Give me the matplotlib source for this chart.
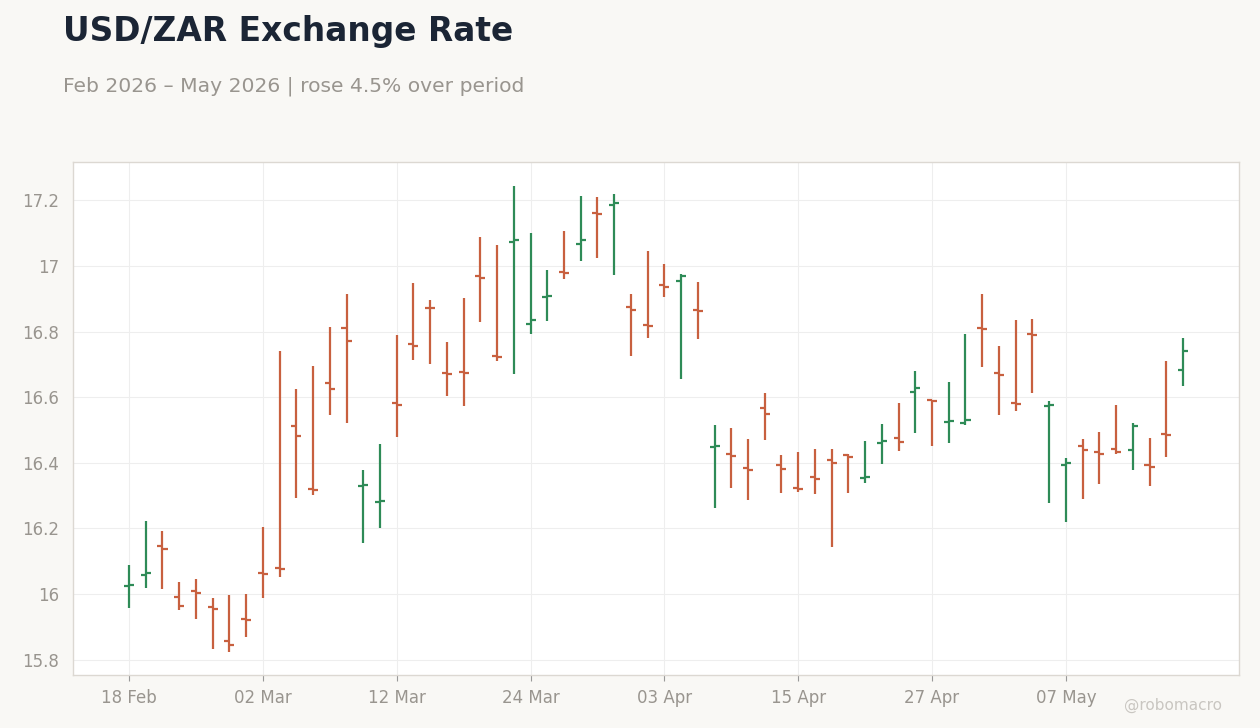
import numpy as np
import pandas as pd
import matplotlib
matplotlib.use("Agg")
import matplotlib.pyplot as plt
from matplotlib.ticker import FuncFormatter

# trading days (business days), one OHLC bar each
dates = pd.bdate_range("2026-02-18", periods=64)

opens = [16.025, 16.059, 16.147, 15.992, 16.010, 15.961, 15.858, 15.925, 16.064, 16.080,
         16.513, 16.321, 16.644, 16.812, 16.328, 16.281, 16.583, 16.763, 16.873, 16.673,
         16.676, 16.970, 16.726, 17.074, 16.824, 16.905, 16.983, 17.068, 17.162, 17.187,
         16.876, 16.821, 16.943, 16.955, 16.867, 16.448, 16.428, 16.385, 16.568, 16.394,
         16.324, 16.358, 16.409, 16.425, 16.354, 16.461, 16.476, 16.617, 16.590, 16.525,
         16.522, 16.810, 16.675, 16.583, 16.793, 16.574, 16.394, 16.452, 16.434, 16.443,
         16.440, 16.394, 16.487, 16.684]
highs = [16.088, 16.222, 16.192, 16.036, 16.046, 15.988, 15.997, 16.000, 16.204, 16.741,
         16.625, 16.695, 16.814, 16.914, 16.378, 16.457, 16.789, 16.948, 16.896, 16.768,
         16.902, 17.088, 17.064, 17.244, 17.100, 16.988, 17.107, 17.213, 17.210, 17.219,
         16.914, 17.046, 17.006, 16.977, 16.951, 16.515, 16.506, 16.472, 16.613, 16.424,
         16.433, 16.442, 16.442, 16.428, 16.466, 16.518, 16.582, 16.680, 16.592, 16.646,
         16.793, 16.914, 16.756, 16.835, 16.838, 16.588, 16.414, 16.472, 16.494, 16.576,
         16.521, 16.475, 16.710, 16.780]
lows = [15.958, 16.019, 16.016, 15.952, 15.925, 15.833, 15.824, 15.870, 15.989, 16.053,
        16.294, 16.303, 16.546, 16.521, 16.155, 16.201, 16.478, 16.713, 16.701, 16.603,
        16.573, 16.829, 16.711, 16.672, 16.793, 16.833, 16.961, 17.016, 17.025, 16.973,
        16.726, 16.781, 16.906, 16.656, 16.778, 16.263, 16.324, 16.287, 16.470, 16.309,
        16.312, 16.306, 16.144, 16.309, 16.339, 16.397, 16.437, 16.492, 16.452, 16.461,
        16.516, 16.693, 16.547, 16.559, 16.614, 16.278, 16.220, 16.290, 16.336, 16.428,
        16.379, 16.330, 16.419, 16.635]
closes = [16.028, 16.065, 16.138, 15.964, 16.004, 15.955, 15.845, 15.922, 16.062, 16.077,
          16.483, 16.318, 16.625, 16.771, 16.331, 16.284, 16.577, 16.757, 16.871, 16.671,
          16.674, 16.964, 16.723, 17.080, 16.836, 16.907, 16.980, 17.080, 17.159, 17.193,
          16.867, 16.818, 16.937, 16.970, 16.864, 16.450, 16.422, 16.379, 16.550, 16.382,
          16.321, 16.351, 16.400, 16.419, 16.357, 16.467, 16.464, 16.629, 16.588, 16.528,
          16.531, 16.808, 16.669, 16.580, 16.790, 16.577, 16.400, 16.440, 16.428, 16.434,
          16.513, 16.388, 16.485, 16.742]

UP = "#2e8b57"
DOWN = "#c8603f"
BG = "#f9f8f5"
GRID = "#eeeeee"
TXT = "#99958f"

fig = plt.figure(figsize=(12.6, 7.28), dpi=100, facecolor=BG)
ax = fig.add_axes([73/1260, 53/728, 1166/1260, 513/728])
ax.set_facecolor("white")

x = np.arange(len(dates))
o = np.array(opens); h = np.array(highs); l = np.array(lows); c = np.array(closes)
cols = np.where(c >= o, UP, DOWN)
tw = 0.3  # tick width in bar units

ax.vlines(x, l, h, colors=cols, linewidth=1.6, zorder=3)
ax.hlines(o, x - tw, x, colors=cols, linewidth=1.6, zorder=3)
ax.hlines(c, x, x + tw, colors=cols, linewidth=1.6, zorder=3)

ax.set_xlim(-3.35, len(dates) - 1 + 3.35)
ax.set_ylim(15.753, 17.317)

tick_idx = x[::8]
ax.set_xticks(tick_idx)
ax.set_xticklabels([dates[i].strftime("%d %b") for i in tick_idx])
ax.set_yticks([15.8, 16.0, 16.2, 16.4, 16.6, 16.8, 17.0, 17.2])
ax.yaxis.set_major_formatter(FuncFormatter(lambda v, p: f"{v:g}"))

ax.grid(True, color=GRID, linewidth=0.8, zorder=0)
ax.set_axisbelow(True)
for s in ax.spines.values():
    s.set_color("#dcd8d2")
    s.set_linewidth(1)
ax.tick_params(axis="x", colors="#999999", labelcolor=TXT, labelsize=12, length=4, pad=6)
ax.tick_params(axis="y", length=0, labelcolor=TXT, labelsize=12, pad=10)

fig.text(63/1260, 1 - 31/728, "USD/ZAR Exchange Rate", fontsize=23.7, fontweight="bold",
         color="#1b2535", va="center", ha="left")
fig.text(63/1260, 1 - 86/728, "Feb 2026 \u2013 May 2026 | rose 4.5% over period",
         fontsize=14.6, color=TXT, va="center", ha="left")
fig.text(1222/1260, 1 - 705/728, "@robomacro", fontsize=11, color="#c9c6c1",
         va="center", ha="right")

fig.savefig("out.png", dpi=100, facecolor=BG)
